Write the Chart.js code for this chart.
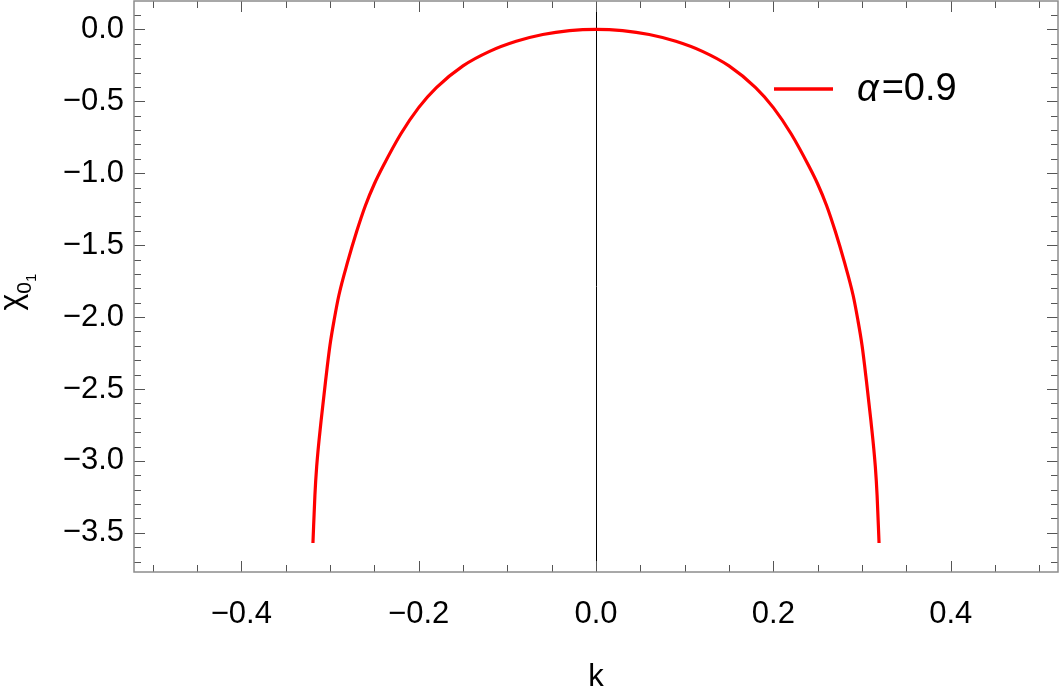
<!DOCTYPE html>
<html>
<head>
<meta charset="utf-8">
<script src="https://cdn.jsdelivr.net/npm/chart.js@4/dist/chart.umd.min.js"></script>
<style>
  html, body { margin: 0; padding: 0; background: #fff; }
  #wrap { width: 1061px; height: 692px; }
</style>
</head>
<body>
<div id="wrap"><canvas id="chart" width="1061" height="692"></canvas></div>
<script>
/* ---------------- DATA ---------------- */

const kValues = [
  -0.3192, -0.317, -0.315, -0.31, -0.305, -0.3, -0.295, -0.29, -0.28, -0.27,
  -0.26, -0.25, -0.24, -0.22, -0.2, -0.18, -0.15, -0.12, -0.09, -0.06, -0.03, 0,
  0.03, 0.06, 0.09, 0.12, 0.15, 0.18, 0.2, 0.22, 0.24, 0.25,
  0.26, 0.27, 0.28, 0.29, 0.295, 0.3, 0.305, 0.31, 0.315, 0.317, 0.3192,
];

const chiValues = [
  -3.57, -3.24, -3.04, -2.72, -2.446, -2.196, -2.01, -1.85, -1.615, -1.407,
  -1.224, -1.075, -0.95, -0.726, -0.544, -0.405, -0.254, -0.153, -0.083, -0.036, -0.009, 0,
  -0.009, -0.036, -0.083, -0.153, -0.254, -0.405, -0.544, -0.726, -0.95, -1.075,
  -1.224, -1.407, -1.615, -1.85, -2.01, -2.196, -2.446, -2.72, -3.04, -3.24, -3.57,
];

const seriesLabel = "α=0.9";
const xTitle = "k";
const yTitleParts = ["χ", "0", "1"];

const xTicks = [-0.4, -0.2, 0, 0.2, 0.4];
const yTicks = [0, -0.5, -1, -1.5, -2, -2.5, -3, -3.5];

const X_MIN = -0.521;
const X_MAX = 0.521;
const Y_MIN = -3.772;
const Y_MAX = 0.197;

const FONT = "'Liberation Sans', Arial, sans-serif";

/* ---------------- HELPERS ---------------- */

function fmt(v) {
  return v.toFixed(1).replace("-", "\u2212");
}

function setTicks(list) {
  return (scale) => {
    scale.ticks = list.map((v) => ({ value: v }));
  };
}

/* ---------------- FRAME + TICKS (Mathematica style) ---------------- */

const framePlugin = {
  id: "frame",
  afterDatasetsDraw(chart) {
    const { ctx, chartArea: a, scales } = chart;
    const xs = scales.x;
    const ys = scales.y;

    ctx.save();

    // tick marks on all four sides, pointing inward
    ctx.strokeStyle = "#555";
    ctx.lineWidth = 1;
    ctx.beginPath();
    for (let i = -10; i <= 10; i++) {
      const px = Math.round(xs.getPixelForValue(i * 0.05)) + 0.5;
      const len = i % 4 === 0 ? 11 : 7;
      ctx.moveTo(px, a.bottom);
      ctx.lineTo(px, a.bottom - len);
      ctx.moveTo(px, a.top);
      ctx.lineTo(px, a.top + len);
    }
    for (let i = -37; i <= 1; i++) {
      const py = Math.round(ys.getPixelForValue(i * 0.1)) + 0.5;
      const len = i % 5 === 0 ? 11 : 7;
      ctx.moveTo(a.left, py);
      ctx.lineTo(a.left + len, py);
      ctx.moveTo(a.right, py);
      ctx.lineTo(a.right - len, py);
    }
    ctx.stroke();

    // frame
    ctx.strokeStyle = "#8c8c8c";
    ctx.lineWidth = 1.5;
    ctx.strokeRect(a.left, a.top, a.right - a.left, a.bottom - a.top);

    ctx.restore();
  },
};

/* ---------------- LEGEND + Y TITLE ---------------- */

const textPlugin = {
  id: "texts",
  afterDraw(chart) {
    const { ctx, chartArea: a } = chart;
    const ds = chart.data.datasets[0];
    const y = 89;

    ctx.save();
    ctx.strokeStyle = ds.borderColor;
    ctx.lineWidth = 3.5;
    ctx.beginPath();
    ctx.moveTo(774, y);
    ctx.lineTo(833, y);
    ctx.stroke();

    ctx.fillStyle = "#000";
    ctx.textBaseline = "middle";
    ctx.textAlign = "left";
    const greek = ds.label.charAt(0);
    const rest = ds.label.slice(1);
    ctx.font = "italic 38px " + FONT;
    ctx.fillText(greek, 857, y + 1);
    const w = ctx.measureText(greek).width;
    ctx.font = "38px " + FONT;
    ctx.fillText(rest, 857 + w + 3, y + 1);
    ctx.restore();

    // rotated y title: chi with nested subscripts
    const cy = (a.top + a.bottom) / 2;
    ctx.save();
    ctx.translate(21, cy + 24);
    ctx.rotate(-Math.PI / 2);
    ctx.fillStyle = "#000";
    ctx.textBaseline = "alphabetic";
    ctx.textAlign = "left";
    ctx.font = "32px " + FONT;
    ctx.fillText(yTitleParts[0], 0, 0);
    let x = ctx.measureText(yTitleParts[0]).width;
    ctx.font = "21px " + FONT;
    ctx.fillText(yTitleParts[1], x, 10);
    x += ctx.measureText(yTitleParts[1]).width;
    ctx.font = "15px " + FONT;
    ctx.fillText(yTitleParts[2], x, 15);
    ctx.restore();
  },
};

/* ---------------- CHART ---------------- */

const points = kValues.map((k, i) => ({ x: k, y: chiValues[i] }));

new Chart(document.getElementById("chart").getContext("2d"), {
  type: "line",
  data: {
    datasets: [
      {
        label: seriesLabel,
        data: points,
        borderColor: "#ff0000",
        borderWidth: 3.2,
        pointRadius: 0,
        fill: false,
        cubicInterpolationMode: "monotone",
      },
    ],
  },
  options: {
    responsive: false,
    animation: false,
    layout: { padding: { top: 1, right: 3, left: 0, bottom: 0 } },
    plugins: {
      legend: { display: false },
      tooltip: { enabled: false },
    },
    scales: {
      x: {
        type: "linear",
        min: X_MIN,
        max: X_MAX,
        afterBuildTicks: setTicks(xTicks),
        afterFit: (s) => {
          s.height = 120;
          s.paddingLeft = 0;
          s.paddingRight = 0;
        },
        border: { display: false },
        grid: {
          drawTicks: false,
          lineWidth: 1,
          color: (c) => (c.tick && c.tick.value === 0 ? "#000" : "rgba(0,0,0,0)"),
        },
        ticks: {
          padding: 24,
          color: "#000",
          font: { family: FONT, size: 31 },
          callback: (v) => fmt(v),
        },
        title: {
          display: true,
          text: xTitle,
          color: "#000",
          font: { family: FONT, size: 31 },
          padding: { top: 0, bottom: -4 },
        },
      },
      y: {
        type: "linear",
        min: Y_MIN,
        max: Y_MAX,
        afterBuildTicks: setTicks(yTicks),
        afterFit: (s) => {
          s.width = 134;
          s.paddingTop = 0;
          s.paddingBottom = 0;
        },
        border: { display: false },
        grid: { display: false, drawTicks: false },
        ticks: {
          padding: 10,
          color: "#000",
          font: { family: FONT, size: 31 },
          callback: (v) => fmt(v),
        },
      },
    },
  },
  plugins: [framePlugin, textPlugin],
});
</script>
</body>
</html>
